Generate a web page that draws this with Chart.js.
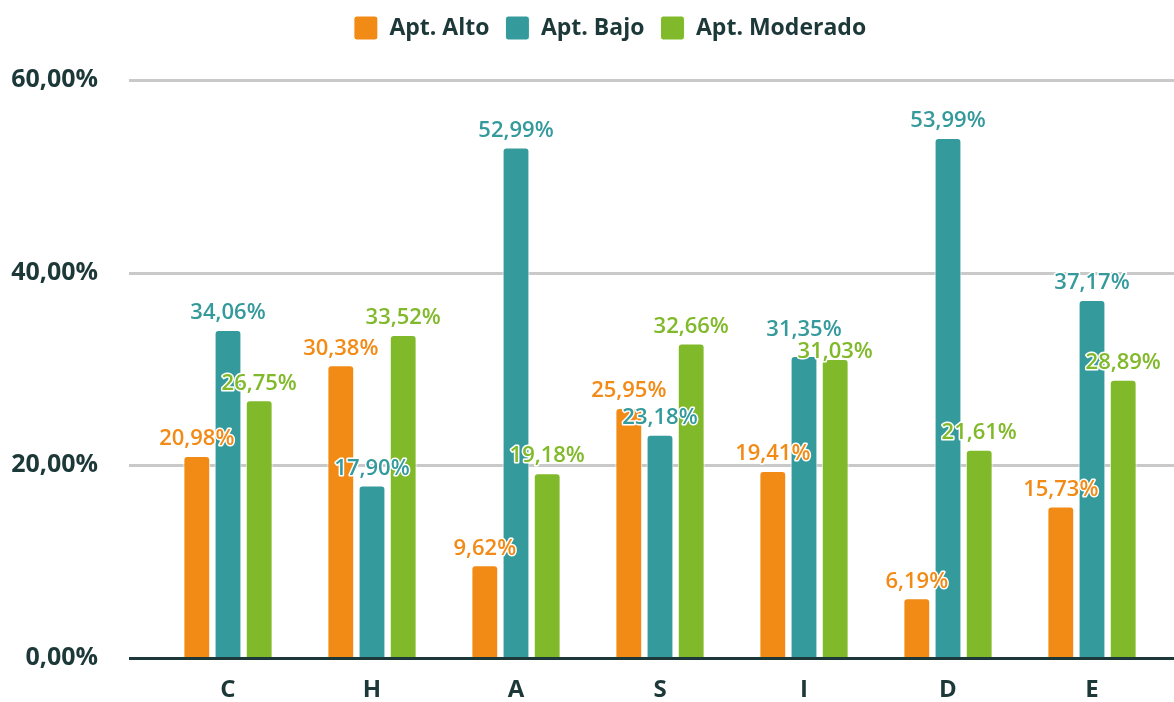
<!DOCTYPE html>
<html>
<head>
<meta charset="utf-8">
<script src="https://cdn.jsdelivr.net/npm/chart.js@4.4.1/dist/chart.umd.min.js"></script>
<style>
  html, body { margin: 0; padding: 0; background: #fff; overflow: hidden; }
  canvas { display: block; }
</style>
</head>
<body>
<canvas id="chart" width="1174" height="702"></canvas>
<script>
const categories = ['C', 'H', 'A', 'S', 'I', 'D', 'E'];
const altoValues = [20.98, 30.38, 9.62, 25.95, 19.41, 6.19, 15.73];
const bajoValues = [34.06, 17.90, 52.99, 23.18, 31.35, 53.99, 37.17];
const moderadoValues = [26.75, 33.52, 19.18, 32.66, 31.03, 21.61, 28.89];
const yTicks = [0, 20, 40, 60];

const FONT = '"Open Sans", "Noto Sans", sans-serif';
const DARK = '#1d3838';

const pct = v => v.toFixed(2).replace('.', ',') + '%';

// horizontal grid lines, a bit wider than the plot area
const gridLines = {
  id: 'gridLines',
  beforeDatasetsDraw(chart) {
    const { ctx, chartArea, scales: { y } } = chart;
    ctx.save();
    ctx.strokeStyle = '#c9c9c9';
    ctx.lineWidth = 3;
    yTicks.filter(t => t > 0).forEach(t => {
      const py = Math.round(y.getPixelForValue(t)) + 0.5;
      ctx.beginPath();
      ctx.moveTo(chartArea.left - 27, py);
      ctx.lineTo(chartArea.right + 10, py);
      ctx.stroke();
    });
    ctx.restore();
  },
  afterDatasetsDraw(chart) {
    const { ctx, chartArea, scales: { y } } = chart;
    const py = Math.round(y.getPixelForValue(0)) + 0.5;
    ctx.save();
    ctx.strokeStyle = DARK;
    ctx.lineWidth = 3;
    ctx.beginPath();
    ctx.moveTo(chartArea.left - 27, py);
    ctx.lineTo(chartArea.right + 10, py);
    ctx.stroke();
    ctx.restore();
  }
};

// value labels above every bar; labels that collide within a group get pushed apart
const LABEL_GAP = 22;
const barLabels = {
  id: 'barLabels',
  afterDatasetsDraw(chart) {
    const { ctx } = chart;
    ctx.save();
    ctx.font = '600 22px ' + FONT;
    ctx.textAlign = 'center';
    ctx.textBaseline = 'middle';
    ctx.lineJoin = 'round';

    const sets = chart.data.datasets;
    chart.data.labels.forEach((_, j) => {
      const items = sets.map((ds, i) => {
        const bar = chart.getDatasetMeta(i).data[j];
        const text = pct(ds.data[j]);
        return { text, x: bar.x, y: bar.y - 17, w: ctx.measureText(text).width, color: ds.backgroundColor };
      });
      for (let k = 0; k < items.length - 1; k++) {
        const a = items[k], b = items[k + 1];
        const dy = Math.abs(a.y - b.y);
        if (dy < LABEL_GAP && Math.abs(a.x - b.x) < (a.w + b.w) / 2) {
          const mid = (a.y + b.y) / 2;
          const [hi, lo] = a.y <= b.y ? [a, b] : [b, a];
          hi.y = mid - LABEL_GAP / 2;
          lo.y = mid + LABEL_GAP / 2;
        }
      }
      items.forEach(it => {
        ctx.strokeStyle = '#ffffff';
        ctx.lineWidth = 3;
        ctx.strokeText(it.text, it.x, it.y);
        ctx.fillStyle = it.color;
        ctx.fillText(it.text, it.x, it.y);
      });
    });
    ctx.restore();
  }
};

// move the legend row up to the top edge and a little right of centre
const legendShift = {
  id: 'legendShift',
  afterLayout(chart) {
    const l = chart.legend;
    l.left += 28;
    l.right += 28;
    l.top -= 30;
    l.bottom -= 30;
  }
};

const barStyle = {
  borderRadius: { topLeft: 4, topRight: 4 },
  borderSkipped: 'bottom',
  borderColor: '#ffffff',
  borderWidth: 1,
  categoryPercentage: 0.65,
  barPercentage: 0.86
};

new Chart(document.getElementById('chart'), {
  type: 'bar',
  data: {
    labels: categories,
    datasets: [
      { label: 'Apt. Alto', data: altoValues, backgroundColor: '#f28a16', ...barStyle },
      { label: 'Apt. Bajo', data: bajoValues, backgroundColor: '#349a9b', ...barStyle },
      { label: 'Apt. Moderado', data: moderadoValues, backgroundColor: '#80b929', ...barStyle }
    ]
  },
  options: {
    responsive: false,
    animation: false,
    layout: { padding: { top: 0, right: 10, left: 0, bottom: 0 } },
    plugins: {
      tooltip: { enabled: false },
      legend: {
        position: 'top',
        labels: {
          color: DARK,
          font: { family: FONT, size: 23, weight: 'bold' },
          boxWidth: 24,
          boxHeight: 24,
          useBorderRadius: true,
          borderRadius: 3,
          padding: 16
        }
      }
    },
    scales: {
      x: {
        grid: { display: false },
        border: { display: false },
        ticks: {
          color: DARK,
          font: { family: FONT, size: 24, weight: 'bold' },
          padding: 10
        },
        afterFit: s => { s.height = 44; }
      },
      y: {
        min: 0,
        max: 60,
        grid: { display: false },
        border: { display: false },
        afterBuildTicks: s => { s.ticks = yTicks.map(v => ({ value: v })); },
        ticks: {
          color: DARK,
          font: { family: FONT, size: 25, weight: 'bold' },
          padding: 50,
          callback: v => pct(v)
        },
        afterFit: s => {
          s.width = 156;
          s.paddingTop = 80;
          s.paddingBottom = 0;
        }
      }
    }
  },
  plugins: [gridLines, barLabels, legendShift]
});
</script>
</body>
</html>
